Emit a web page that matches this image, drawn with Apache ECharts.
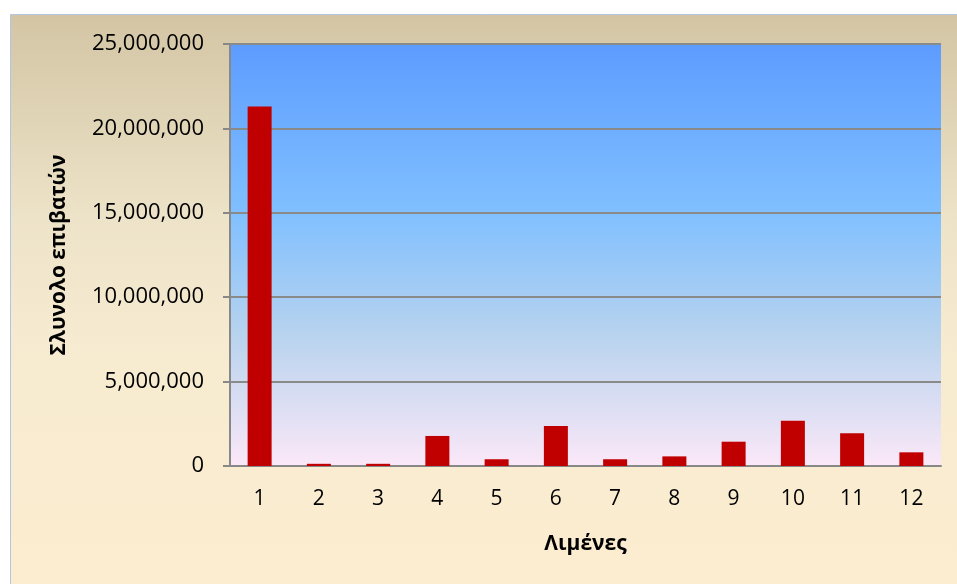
<!DOCTYPE html>
<html>
<head>
<meta charset="utf-8">
<script src="https://cdn.jsdelivr.net/npm/echarts@6/dist/echarts.min.js"></script>
<style>
  html, body { margin: 0; padding: 0; background: #ffffff; }
  #chart { width: 957px; height: 584px; }
</style>
</head>
<body>
<div id="chart"></div>
<script>
// Ports (1..12) and total passengers per port
const ports = ['1', '2', '3', '4', '5', '6', '7', '8', '9', '10', '11', '12'];
const passengers = [21300000, 130000, 130000, 1780000, 400000, 2370000, 400000, 570000, 1440000, 2680000, 1940000, 810000];
const yTicks = [0, 5000000, 10000000, 15000000, 20000000, 25000000];

const FONT = '"Open Sans", "Noto Sans", sans-serif';
const chart = echarts.init(document.getElementById('chart'));

const fmt = v => v.toLocaleString('en-US');

chart.setOption({
  animation: false,
  backgroundColor: '#ffffff',
  graphic: [{
    type: 'rect',
    z: -1,
    silent: true,
    shape: { x: 10.5, y: 14.5, width: 960, height: 580 },
    style: {
      fill: new echarts.graphic.LinearGradient(0, 0, 0, 1, [
        { offset: 0, color: '#d3c5a4' },
        { offset: 0.35, color: '#ede3c8' },
        { offset: 0.56, color: '#f6ebd0' },
        { offset: 1, color: '#fdedd0' }
      ]),
      stroke: '#b3c4e2',
      lineWidth: 1
    }
  }],
  grid: {
    left: 230, right: 16, top: 44, bottom: 118,
    show: true,
    borderWidth: 0,
    backgroundColor: new echarts.graphic.LinearGradient(0, 0, 0, 1, [
      { offset: 0, color: '#5d9cff' },
      { offset: 0.4, color: '#80c0ff' },
      { offset: 0.69, color: '#b8d3ee' },
      { offset: 1, color: '#fbe8f8' }
    ])
  },
  xAxis: {
    type: 'category',
    data: ports,
    name: 'Λιμένες',
    nameLocation: 'middle',
    nameGap: 68,
    nameTextStyle: { fontFamily: FONT, fontSize: 21, fontWeight: 'bold', color: '#000' },
    axisLine: { lineStyle: { color: '#888888', width: 2 } },
    axisTick: { alignWithLabel: false, length: 8, lineStyle: { color: '#888888', width: 2 } },
    axisLabel: { margin: 23, fontFamily: FONT, fontSize: 21, color: '#000' }
  },
  yAxis: {
    type: 'value',
    min: 0, max: 25000000, interval: 5000000,
    name: 'Σλυνολο επιβατών',
    nameLocation: 'middle',
    nameGap: 160,
    nameTextStyle: { fontFamily: FONT, fontSize: 21, fontWeight: 'bold', color: '#000' },
    axisLine: { show: true, lineStyle: { color: '#888888', width: 2 } },
    axisTick: { show: true, length: 7, lineStyle: { color: '#888888', width: 2 } },
    axisLabel: {
      margin: 26, fontFamily: FONT, fontSize: 22, color: '#000',
      formatter: v => yTicks.includes(v) ? fmt(v) : ''
    },
    splitLine: { show: true, lineStyle: { color: '#8a8a8a', width: 2 } }
  },
  series: [{
    type: 'bar',
    data: passengers,
    barWidth: 24,
    itemStyle: { color: '#c00000' }
  }]
});
</script>
</body>
</html>
